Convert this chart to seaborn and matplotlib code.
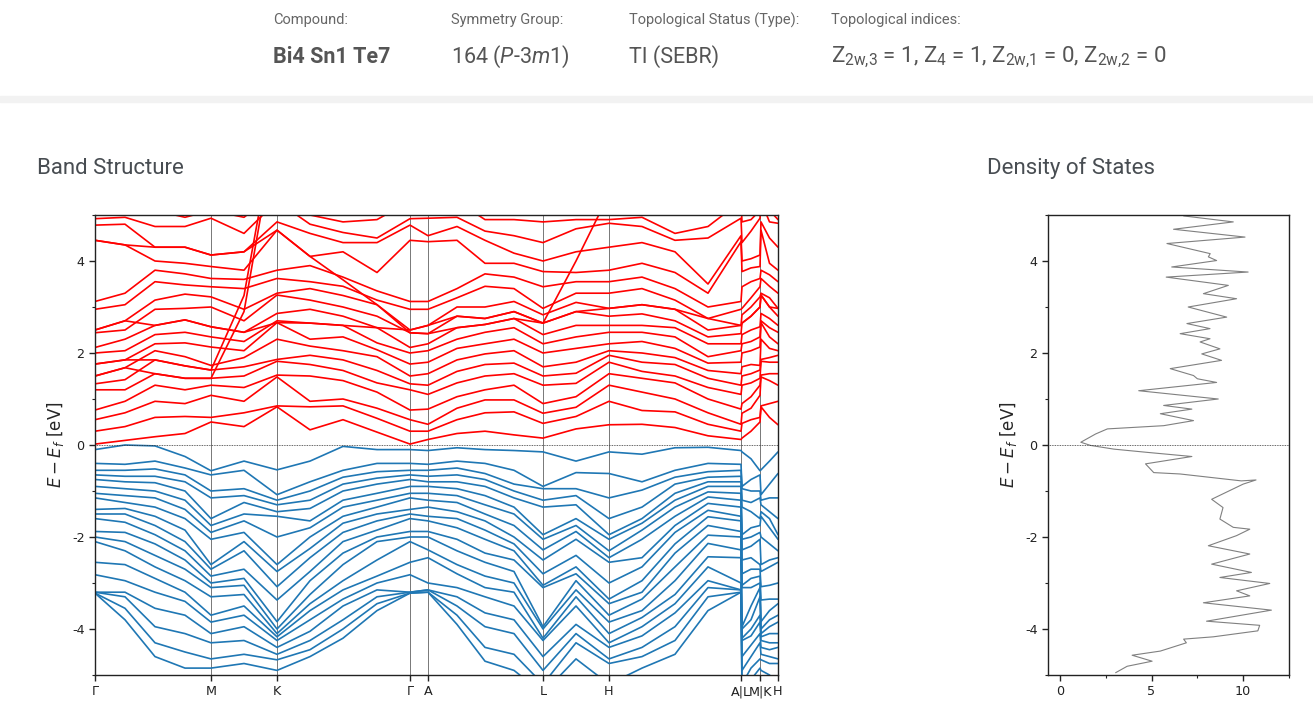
import numpy as np
import pandas as pd
import matplotlib
matplotlib.use("Agg")
import matplotlib.pyplot as plt
from matplotlib.patches import Rectangle
from matplotlib.ticker import MultipleLocator
import seaborn as sns

# ---- k path (distance along path) and labels
kdist = [0.0, 0.30, 0.60, 0.90, 1.16, 1.49, 1.82, 2.15, 2.48, 2.82, 3.15,
         3.33, 3.62, 3.90, 4.19, 4.48, 4.81, 5.14, 5.47, 5.80, 6.13, 6.46,
         6.47, 6.56, 6.65, 6.66, 6.745, 6.83]
tick_pos = [0.0, 1.16, 1.82, 3.15, 3.33, 4.48, 5.14, 6.46, 6.65, 6.83]
tick_lab = ["Γ", "M", "K", "Γ", "A", "L", "H", "A|L", "M|K", "H"]

# ---- conduction band energies at each k column (eV)
cb_G = [0.02, 0.3, 0.55, 0.76, 1.2, 1.33, 1.5, 1.76, 2.0, 2.12, 2.44, 2.5, 2.95, 3.12, 4.45, 4.78, 4.92, 5.3]
cb_g1 = [0.1, 0.4, 0.7, 0.95, 1.2, 1.42, 1.68, 1.85, 2.05, 2.3, 2.5, 2.7, 3.05, 3.3, 4.35, 4.8, 4.95, 5.3]
cb_g2 = [0.18, 0.6, 0.95, 1.3, 1.55, 1.85, 2.05, 2.2, 2.4, 2.6, 2.95, 3.15, 3.55, 3.8, 4.0, 4.3, 4.75, 5.1]
cb_g3 = [0.25, 0.62, 0.9, 1.2, 1.45, 1.72, 1.92, 2.22, 2.45, 2.72, 2.97, 3.28, 3.48, 3.72, 3.95, 4.3, 4.75, 4.95]
cb_M = [0.5, 0.6, 1.08, 1.3, 1.45, 1.63, 1.73, 2.13, 2.35, 2.57, 3.0, 3.22, 3.44, 3.62, 3.88, 4.13, 4.93, 5.1]
cb_mk = [0.4, 0.7, 0.95, 1.25, 1.5, 1.7, 1.9, 2.05, 2.25, 2.45, 2.7, 2.95, 3.4, 3.6, 3.8, 4.2, 4.6, 4.95]
cb_K = [0.83, 0.85, 1.48, 1.52, 1.82, 1.86, 2.3, 2.66, 2.7, 2.86, 3.26, 3.3, 3.62, 3.8, 4.67, 4.85, 5.3, 5.5]
cb_k1 = [0.33, 0.83, 0.95, 1.5, 1.75, 1.95, 2.15, 2.3, 2.65, 2.95, 3.15, 3.4, 3.55, 3.9, 4.1, 4.6, 4.8, 5.0]
cb_k2 = [0.55, 0.85, 1.0, 1.4, 1.62, 1.85, 2.05, 2.35, 2.6, 2.8, 3.0, 3.25, 3.45, 3.65, 4.2, 4.4, 4.62, 4.85]
cb_k3 = [0.28, 0.58, 0.8, 1.15, 1.35, 1.62, 1.92, 2.07, 2.22, 2.55, 2.8, 3.05, 3.15, 3.35, 3.75, 4.4, 4.5, 4.9]
cb_A = [0.12, 0.3, 0.45, 0.78, 1.1, 1.3, 1.55, 1.8, 2.05, 2.2, 2.42, 2.6, 2.95, 3.12, 4.42, 4.55, 4.93, 5.3]
cb_a1 = [0.25, 0.55, 0.8, 1.05, 1.35, 1.6, 1.85, 2.1, 2.3, 2.55, 2.8, 3.0, 3.2, 3.4, 4.45, 4.75, 4.95, 5.3]
cb_a2 = [0.3, 0.7, 0.98, 1.2, 1.5, 1.75, 1.98, 2.2, 2.45, 2.62, 2.75, 3.0, 3.45, 3.72, 3.95, 4.45, 4.65, 4.9]
cb_a3 = [0.22, 0.72, 0.98, 1.3, 1.55, 1.78, 2.05, 2.3, 2.55, 2.75, 2.9, 3.12, 3.4, 3.65, 3.95, 4.17, 4.55, 4.9]
cb_L = [0.15, 0.47, 0.69, 0.9, 1.3, 1.5, 1.7, 2.0, 2.2, 2.4, 2.65, 2.83, 2.97, 3.44, 3.77, 4.0, 4.4, 4.85]
cb_lh = [0.35, 0.62, 0.82, 1.05, 1.34, 1.56, 1.8, 2.1, 2.35, 2.6, 2.9, 3.1, 3.3, 3.55, 3.75, 4.2, 4.7, 4.9]
cb_H = [0.44, 0.95, 1.3, 1.55, 1.8, 1.95, 2.05, 2.2, 2.45, 2.6, 2.8, 2.97, 3.3, 3.55, 3.8, 4.3, 4.82, 4.9]
cb_h1 = [0.45, 0.75, 1.15, 1.45, 1.6, 1.8, 2.0, 2.25, 2.45, 2.6, 2.85, 3.05, 3.4, 3.65, 3.95, 4.4, 4.75, 4.95]
cb_h2 = [0.38, 0.72, 1.0, 1.35, 1.5, 1.75, 1.9, 2.1, 2.35, 2.55, 2.7, 2.95, 3.15, 3.4, 3.75, 4.2, 4.45, 4.6]
cb_h3 = [0.2, 0.45, 0.7, 1.0, 1.25, 1.45, 1.62, 1.78, 1.92, 2.2, 2.35, 2.5, 2.75, 3.0, 3.3, 3.5, 4.5, 4.75]
cb_lm = [0.3, 0.55, 0.8, 1.05, 1.35, 1.55, 1.75, 2.05, 2.25, 2.5, 2.8, 3.0, 3.2, 3.55, 3.85, 4.05, 4.65, 4.9]
cb_kh = [0.6, 0.9, 1.4, 1.55, 1.8, 1.9, 2.1, 2.35, 2.55, 2.75, 3.0, 3.2, 3.45, 3.7, 3.95, 4.5, 4.85, 5.1]

# ---- steep conduction bands that cut across the others (one value per k column)
cb_steep1 = [1.5, 1.68, 1.55, 1.45, 1.45, 2.9, 7.0, 7.0, 7.0, 7.0, 7.0, 7.0, 7.0, 7.0,
             7.0, 7.0, 7.0, 7.0, 7.0, 7.0, 7.0, 7.0, 7.0, 7.0, 7.0, 7.0, 7.0, 7.0]
cb_steep2 = [1.76, 1.85, 1.85, 1.72, 1.63, 3.25, 7.2, 7.2, 7.2, 7.2, 7.2, 7.2, 7.2, 7.2,
             7.2, 7.2, 7.2, 7.2, 7.2, 7.2, 7.2, 7.2, 7.2, 7.2, 7.2, 7.2, 7.2, 7.2]
cb_steep3 = [4.45, 4.35, 4.3, 4.3, 4.13, 4.2, 4.67, 4.1, 3.59, 3.05, 2.44, 2.42, 2.55, 2.62,
             2.75, 2.65, 2.9, 2.97, 3.05, 2.95, 2.75, 2.6, 2.65, 2.8, 3.0, 3.26, 3.0, 2.97]
cb_steep4 = [2.5, 2.7, 2.6, 2.72, 2.57, 2.45, 2.66, 2.65, 2.6, 2.55, 2.5, 2.6, 2.8, 2.75,
             2.9, 2.65, 4.0, 5.45, 7.0, 7.0, 7.0, 7.0, 7.0, 7.0, 7.0, 7.0, 7.0, 7.0]

# ---- valence band energies at each k column (eV)
vb_G = [-0.1, -0.4, -0.55, -0.65, -0.75, -0.9, -1.05, -1.15, -1.4, -1.5, -1.6, -1.88, -2.0, -2.1, -2.55, -2.82, -3.2, -3.2, -3.22, -3.22]
vb_g1 = [0.0, -0.42, -0.55, -0.68, -0.8, -0.95, -1.1, -1.25, -1.38, -1.5, -1.68, -1.9, -2.1, -2.3, -2.6, -2.95, -3.2, -3.3, -3.55, -3.8]
vb_g2 = [-0.02, -0.35, -0.52, -0.68, -0.82, -1.0, -1.15, -1.35, -1.55, -1.75, -1.95, -2.15, -2.4, -2.65, -2.9, -3.2, -3.55, -3.95, -4.3, -4.6]
vb_g3 = [-0.25, -0.5, -0.65, -0.8, -1.0, -1.2, -1.4, -1.6, -1.85, -2.1, -2.3, -2.5, -2.7, -2.95, -3.2, -3.4, -3.7, -4.1, -4.5, -4.85]
vb_M = [-0.56, -0.65, -1.0, -1.15, -1.6, -1.75, -1.9, -2.05, -2.6, -2.7, -2.85, -3.0, -3.1, -3.3, -3.7, -3.85, -4.1, -4.3, -4.65, -4.85]
vb_mk = [-0.35, -0.55, -0.95, -1.1, -1.25, -1.5, -1.65, -1.9, -2.1, -2.3, -2.7, -2.9, -3.05, -3.25, -3.5, -3.7, -3.95, -4.25, -4.55, -4.75]
vb_K = [-0.54, -1.08, -1.2, -1.3, -1.45, -1.55, -2.0, -2.6, -2.75, -3.08, -3.37, -3.84, -4.0, -4.1, -4.17, -4.25, -4.4, -4.55, -4.67, -4.9]
vb_k1 = [-0.35, -0.8, -1.0, -1.2, -1.38, -1.65, -1.8, -2.0, -2.25, -2.45, -2.75, -2.95, -3.25, -3.45, -3.6, -3.8, -4.05, -4.25, -4.45, -4.6]
vb_k2 = [-0.03, -0.55, -0.7, -0.85, -1.0, -1.2, -1.35, -1.55, -1.7, -1.9, -2.1, -2.35, -2.6, -2.95, -3.15, -3.35, -3.5, -3.8, -4.0, -4.2]
vb_k3 = [-0.1, -0.4, -0.58, -0.72, -0.85, -1.05, -1.2, -1.35, -1.5, -1.65, -1.85, -2.0, -2.1, -2.5, -2.85, -3.0, -3.15, -3.3, -3.45, -3.6]
vb_A = [-0.12, -0.42, -0.55, -0.68, -0.8, -0.9, -1.05, -1.2, -1.35, -1.55, -1.65, -1.88, -2.0, -2.28, -2.45, -3.0, -3.15, -3.15, -3.2, -3.2]
vb_a1 = [-0.06, -0.35, -0.5, -0.65, -0.8, -0.95, -1.1, -1.25, -1.45, -1.6, -1.8, -2.05, -2.3, -2.6, -2.8, -3.1, -3.3, -3.5, -3.7, -3.9]
vb_a2 = [-0.1, -0.4, -0.62, -0.75, -0.9, -1.1, -1.3, -1.5, -1.65, -1.85, -2.05, -2.35, -2.55, -2.85, -3.1, -3.3, -3.65, -3.95, -4.4, -4.7]
vb_a3 = [-0.12, -0.55, -0.85, -1.0, -1.15, -1.35, -1.5, -1.75, -2.0, -2.15, -2.3, -2.5, -2.75, -3.0, -3.2, -3.5, -3.8, -4.1, -4.55, -4.9]
vb_L = [-0.15, -0.9, -0.95, -1.2, -1.35, -1.95, -2.05, -2.28, -2.5, -2.8, -3.05, -3.1, -3.95, -4.0, -4.2, -4.25, -4.6, -4.9, -5.2, -5.4]
vb_lh = [-0.35, -0.6, -0.95, -1.1, -1.3, -1.6, -1.75, -1.88, -2.05, -2.4, -2.65, -2.8, -2.95, -3.15, -3.3, -3.5, -3.9, -4.1, -4.3, -4.65]
vb_H = [-0.15, -0.62, -1.15, -1.6, -1.95, -2.05, -2.3, -2.45, -2.55, -3.0, -3.35, -3.45, -3.7, -3.85, -4.1, -4.3, -4.4, -4.65, -4.75, -5.2]
vb_h1 = [-0.2, -0.8, -0.98, -1.35, -1.6, -1.7, -1.85, -2.05, -2.45, -2.65, -2.95, -3.2, -3.35, -3.6, -3.75, -3.95, -4.15, -4.4, -4.6, -4.85]
vb_h2 = [-0.06, -0.55, -0.7, -0.85, -1.05, -1.2, -1.35, -1.55, -1.75, -1.9, -2.15, -2.35, -2.65, -2.95, -3.25, -3.45, -3.65, -3.95, -4.25, -4.55]
vb_h3 = [-0.05, -0.4, -0.58, -0.7, -0.8, -0.9, -1.02, -1.13, -1.27, -1.42, -1.56, -1.75, -1.96, -2.14, -2.43, -2.65, -2.95, -3.1, -3.3, -3.6]
vb_lm = [-0.3, -0.75, -1.0, -1.25, -1.45, -1.8, -2.0, -2.2, -2.45, -2.7, -2.9, -3.1, -3.5, -3.8, -4.0, -4.15, -4.35, -4.6, -4.85, -5.1]
vb_kh = [-0.35, -0.85, -1.15, -1.45, -1.6, -1.8, -2.15, -2.5, -2.65, -3.05, -3.35, -3.6, -3.8, -3.95, -4.1, -4.3, -4.45, -4.6, -4.75, -5.0]

conduction = [cb_G, cb_g1, cb_g2, cb_g3, cb_M, cb_mk, cb_K, cb_k1, cb_k2, cb_k3, cb_G,
              cb_A, cb_a1, cb_a2, cb_a3, cb_L, cb_lh, cb_H, cb_h1, cb_h2, cb_h3, cb_A,
              cb_L, cb_lm, cb_M, cb_K, cb_kh, cb_H]
valence = [vb_G, vb_g1, vb_g2, vb_g3, vb_M, vb_mk, vb_K, vb_k1, vb_k2, vb_k3, vb_G,
           vb_A, vb_a1, vb_a2, vb_a3, vb_L, vb_lh, vb_H, vb_h1, vb_h2, vb_h3, vb_A,
           vb_L, vb_lm, vb_M, vb_K, vb_kh, vb_H]
steep = [cb_steep1, cb_steep2, cb_steep3, cb_steep4]

# ---- density of states (energy, states)
dos_energy = [4.98, 4.85, 4.69, 4.52, 4.38, 4.16, 4.09, 4.01, 3.87, 3.76, 3.65, 3.47, 3.29,
              3.18, 3.0, 2.78, 2.64, 2.53, 2.42, 2.31, 2.24, 2.09, 1.98, 1.84, 1.66, 1.51,
              1.44, 1.36, 1.18, 1.0, 0.86, 0.78, 0.68, 0.53, 0.42, 0.35, 0.24, 0.06, -0.01,
              -0.09, -0.16, -0.25, -0.41, -0.6, -0.63, -0.78, -0.76, -0.85, -0.99, -1.18,
              -1.36, -1.61, -1.79, -1.83, -1.97, -2.19, -2.37, -2.59, -2.77, -2.88, -3.01,
              -3.17, -3.28, -3.43, -3.59, -3.83, -3.92, -4.04, -4.17, -4.22, -4.3, -4.48,
              -4.57, -4.7, -4.81, -4.95]
dos_value = [6.75, 9.46, 6.2, 10.1, 5.84, 8.2, 8.1, 8.55, 6.1, 10.27, 5.8, 9.19, 7.83,
             9.64, 7.0, 9.1, 6.93, 8.19, 6.56, 8.19, 7.65, 8.73, 7.74, 8.82, 6.02, 7.29,
             7.5, 8.55, 4.3, 8.64, 5.66, 7.2, 5.48, 7.29, 5.66, 2.59, 1.95, 1.14, 1.68,
             2.95, 4.76, 7.2, 4.67, 5.12, 6.56, 9.9, 10.7, 10.0, 9.27, 8.28,
             8.9, 8.73, 9.46, 10.36, 9.64, 8.1, 10.36, 8.28, 10.45, 8.73, 11.45,
             9.64, 10.36, 7.83, 11.54, 8.0, 10.9, 10.8, 8.37, 6.75, 6.9, 5.48,
             3.94, 5.03, 3.67, 3.04]


def to_long(columns, extra=()):
    arr = np.sort(np.array(columns), axis=1)
    lines = [arr[:, b] for b in range(arr.shape[1])] + [np.array(e) for e in extra]
    rows = []
    for b, band in enumerate(lines):
        for k, e in zip(kdist, band):
            rows.append((b, k, e))
    return pd.DataFrame(rows, columns=["band", "k", "E"])


sns.set_theme(style="ticks")
plt.rcParams["font.family"] = ["DejaVu Sans"]
plt.rcParams["axes.unicode_minus"] = False
plt.rcParams["mathtext.fontset"] = "dejavusans"
plt.rcParams["mathtext.rm"] = "Roboto"
plt.rcParams["mathtext.it"] = "Roboto:italic"
plt.rcParams["mathtext.bf"] = "Roboto:bold"
plt.rcParams["axes.edgecolor"] = "#222222"
plt.rcParams["xtick.color"] = "#222222"
plt.rcParams["ytick.color"] = "#222222"

fig = plt.figure(figsize=(13.13, 7.06), dpi=100)
W, H = 1313, 706

# header
fig.patches.append(Rectangle((0, 1 - 102 / H), 1, 6 / H, transform=fig.transFigure,
                             color="#f2f2f2", zorder=0))
lab_kw = dict(family="Roboto", fontsize=10.5, color="#666666", va="center")
val_kw = dict(family="Roboto", fontsize=15.5, color="#555555", va="center",
              math_fontfamily="custom")
fig.text(273 / W, 1 - 20 / H, "Compound:", **lab_kw)
fig.text(451 / W, 1 - 20 / H, "Symmetry Group:", **lab_kw)
fig.text(629 / W, 1 - 20 / H, "Topological Status (Type):", **lab_kw)
fig.text(831 / W, 1 - 20 / H, "Topological indices:", **lab_kw)
fig.text(273 / W, 1 - 57 / H, "Bi4 Sn1 Te7", fontweight="bold", **val_kw)
fig.text(451 / W, 1 - 57 / H, r"164 ($P$-3$m$1)", **val_kw)
fig.text(629 / W, 1 - 57 / H, "TI (SEBR)", **val_kw)
val_kw["fontsize"] = 16
fig.text(831 / W, 1 - 57 / H,
         r"Z$_{\mathrm{2w{,}3}}$ = 1, Z$_{\mathrm{4}}$ = 1, Z$_{\mathrm{2w{,}1}}$ = 0, "
         r"Z$_{\mathrm{2w{,}2}}$ = 0",
         **val_kw)

title_kw = dict(family="Roboto", fontsize=16, color="#484d52", va="center")
fig.text(37 / W, 1 - 168 / H, "Band Structure", **title_kw)
fig.text(987 / W, 1 - 168 / H, "Density of States", **title_kw)

# band structure
ax = fig.add_axes([95 / W, 1 - 675 / H, 683 / W, 460 / H])
for x in tick_pos:
    ax.axvline(x, color="#777777", lw=0.7, zorder=0)
sns.lineplot(data=to_long(conduction, steep), x="k", y="E", units="band", estimator=None,
             sort=False, color="#ff0000", lw=1.2, ax=ax)
sns.lineplot(data=to_long(valence), x="k", y="E", units="band", estimator=None,
             sort=False, color="#1f77b4", lw=1.2, ax=ax)
ax.axhline(0, color="#333333", lw=0.6, ls=(0, (1, 1)))
ax.set_xlim(kdist[0], kdist[-1])
ax.set_ylim(-5, 5)
ax.set_xticks(tick_pos)
ax.set_xticklabels(tick_lab)
ax.set_yticks([-4, -2, 0, 2, 4])
ax.yaxis.set_minor_locator(MultipleLocator(1))
ax.set_xlabel("")
ax.set_ylabel(r"$E - E_f$ [eV]", fontsize=12)
ax.tick_params(labelsize=9.2, length=4, width=1)
ax.tick_params(which="minor", length=2.5, width=0.8)

# density of states
ax2 = fig.add_axes([1048 / W, 1 - 675 / H, 241 / W, 460 / H])
sns.lineplot(x=dos_value, y=dos_energy, sort=False, estimator=None, orient="y",
             color="#808080", lw=0.8, ax=ax2)
ax2.axhline(0, color="#333333", lw=0.6, ls=(0, (1, 1)))
ax2.set_xlim(-0.65, 12.5)
ax2.set_ylim(-5, 5)
ax2.set_xticks([0, 5, 10])
ax2.xaxis.set_minor_locator(MultipleLocator(2.5))
ax2.set_yticks([-4, -2, 0, 2, 4])
ax2.yaxis.set_minor_locator(MultipleLocator(1))
ax2.set_ylabel(r"$E - E_f$ [eV]", fontsize=12)
ax2.tick_params(labelsize=9.2, length=4, width=1)
ax2.tick_params(which="minor", length=2.5, width=0.8)

for a in (ax, ax2):
    for s in a.spines.values():
        s.set_visible(True)
        s.set_linewidth(1.0)

fig.savefig("out.png", dpi=100, facecolor="white")
